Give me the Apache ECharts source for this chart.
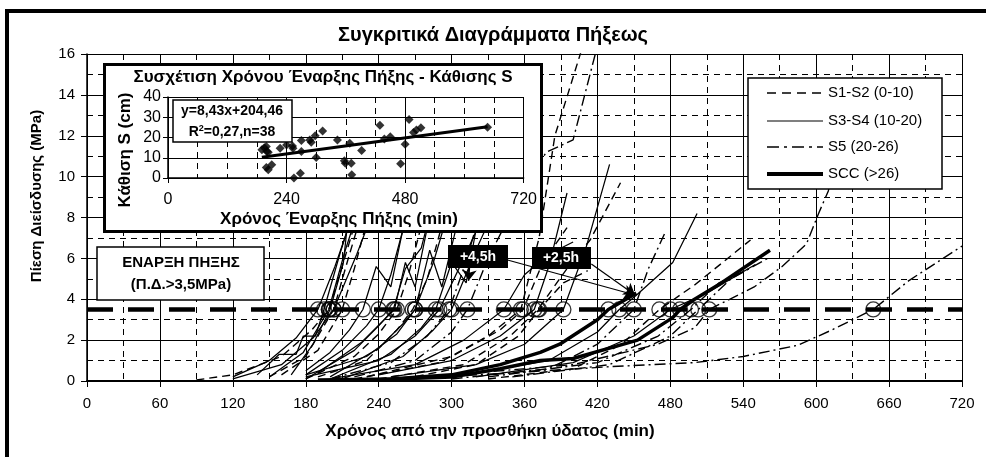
<!DOCTYPE html>
<html>
<head>
<meta charset="utf-8">
<script src="https://cdn.jsdelivr.net/npm/echarts@6/dist/echarts.min.js"></script>
<style>
html,body{margin:0;padding:0;background:#fff;}
#main{position:absolute;left:0;top:0;width:986px;height:457px;}
#inset{position:absolute;left:103px;top:63px;width:440px;height:170px;box-sizing:border-box;border:3px solid #000;background:#fff;z-index:5;}
</style>
</head>
<body>
<div id="main"></div>
<div id="inset"></div>
<script>
// ---------- DATA ----------
const xTicks = [0, 60, 120, 180, 240, 300, 360, 420, 480, 540, 600, 660, 720];
const yTicks = [0, 2, 4, 6, 8, 10, 12, 14, 16];
const thresholdMPa = 3.5;
const legendNames = ['S1-S2 (0-10)', 'S3-S4 (10-20)', 'S5 (20-26)', 'SCC (>26)'];

// initial setting time (min) and slump S (cm) of the 38 mixes
const setTimes = [190,195,199,200,203,199,203,210,227,240,252,253,255,268,270,270,287,290,298,300,313,343,357,359,368,371,372,392,429,438,450,471,480,488,497,503,512,647];
const slumps   = [13.9,15.0,15.5,13.1,12.7,5.2,4.1,6.5,14.7,16.3,15.8,14.7,0,2.4,18.5,13.1,18.8,17.6,20.9,10.1,23.2,18.8,8.5,7.3,17.1,7.3,1.6,13.6,26.1,19.3,20.4,7.0,16.7,28.9,22.5,23.7,24.8,25.1];
const trendX = [190, 647];
const trendY = [10.3, 25.3];

// penetration curves [time min, pressure MPa]
const curvesS12 = [
  [[90,0.05],[120,0.3],[160,1.2],[185,2.5],[199,3.5],[212,6],[222,8]],
  [[150,0.2],[180,1.2],[203,3.5],[215,6],[226,8.2]],
  [[160,0.3],[190,1.5],[210,3.5],[220,5.5],[232,8.2]],
  [[180,0.1],[220,1.2],[240,2.3],[255,3.5],[265,5.3],[276,7.8]],
  [[190,0.2],[230,1.0],[255,2.5],[268,3.5],[280,5],[292,7.6]],
  [[220,0.1],[290,0.9],[330,2.2],[357,3.5],[372,7],[385,12],[408,16.4]],
  [[230,0.2],[300,1.2],[340,2.5],[359,3.5],[375,5.8],[395,7.5]],
  [[240,0.1],[310,0.8],[350,2.3],[371,3.5],[395,5.5],[414,6.9],[439,9.7]],
  [[260,0.1],[320,0.8],[355,2.2],[372,3.5],[392,4.8],[412,5.4]],
  [[330,0.1],[400,0.6],[440,1.8],[471,3.5],[500,4.7],[546,6.9]]
];
const curvesS34 = [
  [[120,0.2],[150,1.0],[172,2.1],[190,3.5],[204,5.6],[218,8.0]],
  [[140,0.3],[158,1.3],[172,1.3],[178,2.2],[188,2.2],[195,3.5],[208,6.2],[220,8.5]],
  [[150,0.2],[178,1.4],[199,3.5],[212,6.3],[224,8.5]],
  [[168,0.3],[186,1.8],[200,3.5],[211,5.8],[214,7.5],[222,9.5]],
  [[120,0.1],[160,0.8],[186,2.1],[203,3.5],[222,6.2],[240,9]],
  [[180,0.5],[200,1.4],[216,2.5],[227,3.5],[238,5.6],[250,4.6],[262,8]],
  [[180,0.3],[210,1.5],[230,2.7],[240,3.5],[250,5.2],[265,8.5]],
  [[180,0.1],[220,1.5],[240,2.7],[252,3.5],[262,5.5],[275,6.5],[285,8.8]],
  [[190,0.4],[226,1.9],[253,3.5],[262,5.8],[270,4.6],[280,7.5]],
  [[200,0.2],[240,1.6],[260,2.8],[270,3.5],[282,6.4],[292,4.6],[305,7.8]],
  [[180,0.3],[230,1.2],[255,2.3],[270,3.5],[285,5.8],[300,8.8]],
  [[200,0.1],[250,1.3],[275,2.6],[287,3.5],[300,5.8],[312,4.8],[322,8]],
  [[180,0.2],[240,1.0],[270,2.2],[290,3.5],[310,6],[330,8.6]],
  [[210,0.1],[260,1.2],[285,2.5],[300,3.5],[320,6.4],[340,9]],
  [[200,0.1],[270,0.8],[310,2.0],[343,3.5],[360,5.2],[380,6.2],[400,6.8]],
  [[240,0.3],[300,1.0],[340,2.2],[368,3.5],[380,5.6],[395,9.2]],
  [[250,0.2],[320,0.8],[360,1.8],[392,3.5],[411,6.6],[430,10.6]],
  [[300,0.2],[380,1.0],[420,2.4],[438,3.5],[452,4.2],[482,5.8],[502,8.2]],
  [[320,0.2],[400,0.9],[450,2.2],[480,3.5],[510,4.3],[550,5.7]]
];
const curvesS5 = [
  [[200,0.1],[250,0.9],[280,2.2],[298,3.5],[310,5.5],[325,8.5]],
  [[220,0.2],[270,1.0],[300,2.4],[313,3.5],[330,6],[360,9.5],[378,11.2],[400,11.8],[420,16.4]],
  [[300,0.1],[380,0.6],[420,1.8],[450,3.5],[462,5.5],[476,7.3]],
  [[330,0.2],[420,0.9],[470,2.2],[497,3.5],[520,4.8],[545,5.5]],
  [[350,0.2],[430,0.8],[480,2.2],[503,3.5],[530,5],[560,6]],
  [[300,0.3],[400,0.8],[470,1.8],[500,2.6],[512,3.5],[549,4.6],[572,5.6],[592,6.7],[602,8.2],[610,9.3],[622,12.5]],
  [[260,0.1],[350,0.4],[430,0.7],[500,0.9],[540,1.2],[585,1.75],[613,2.5],[647,3.5],[676,4.9],[720,6.6]]
];
const curvesSCC = [
  [[190,0.05],[250,0.1],[300,0.3],[340,0.8],[373,1.4],[389,1.8],[420,3.0],[429,3.5],[452,4.3]],
  [[230,0.05],[300,0.2],[340,0.6],[373,1.0],[400,1.1],[453,2.0],[482,3.1],[488,3.5],[500,4.0],[522,4.8],[562,6.4]]
];
// annotation arrows (time, MPa)
const arrows = [
  [[346, 5.92], [451, 4.21]],
  [[415, 5.72], [451, 4.21]],
  [[315, 5.7], [314, 4.9]]
];

// ---------- STYLES ----------
const FONT = 'Liberation Sans, Arial, sans-serif';
const styles = [
  {name: legendNames[0], data: curvesS12, ls: {color:'#000', width:1.4, type:[8,5]}, lg: {width:1.5, dash:[9,6]}},
  {name: legendNames[1], data: curvesS34, ls: {color:'#000', width:1.25, type:'solid'}, lg: {width:1.2, dash:null}},
  {name: legendNames[2], data: curvesS5,  ls: {color:'#000', width:1.4, type:[11,4,2,4]}, lg: {width:1.5, dash:[12,5,3,5]}},
  {name: legendNames[3], data: curvesSCC, ls: {color:'#000', width:3.5, type:'solid'}, lg: {width:4, dash:null}}
];

const series = [];
styles.forEach(s => {
  s.data.forEach(pts => {
    series.push({
      name: s.name, type: 'line', data: pts, symbol: 'none', showSymbol: false,
      lineStyle: s.ls, silent: true, z: 2, animation: false
    });
  });
});
series.push({
  name: 'threshold', type: 'line', symbol: 'none', z: 3, silent: true, animation: false,
  data: [[xTicks[0], thresholdMPa], [xTicks[xTicks.length - 1], thresholdMPa]],
  lineStyle: {color: '#000', width: 4.5, type: [26, 15]}
});
series.push({
  name: 'setting', type: 'scatter', z: 4, silent: true, animation: false,
  data: setTimes.map(t => [t, thresholdMPa]),
  symbol: 'circle', symbolSize: 15,
  itemStyle: {color: 'rgba(0,0,0,0)', borderColor: '#000', borderWidth: 1.3}
});
series.push({
  name: 'arrows', type: 'line', data: [], silent: true, animation: false, z: 6,
  markLine: {
    silent: true, animation: false, symbol: ['none', 'arrow'], symbolSize: 11,
    label: {show: false},
    lineStyle: {color: '#000', width: 1.2, type: 'solid'},
    data: arrows.map(a => [{coord: a[0]}, {coord: a[1]}])
  }
});

// manual legend (box + line samples + text)
const LG = {x: 748, y: 78, w: 194, h: 111, lineX0: 767, lineX1: 823, textX: 828, rowY: [93, 121, 147, 174]};
const legendGraphics = [
  {type: 'rect', z: 110, silent: true, shape: {x: LG.x, y: LG.y, width: LG.w, height: LG.h},
   style: {fill: '#fff', stroke: '#000', lineWidth: 1.5}}
];
styles.forEach((s, i) => {
  legendGraphics.push({type: 'line', z: 111, silent: true,
    shape: {x1: LG.lineX0, y1: LG.rowY[i], x2: LG.lineX1, y2: LG.rowY[i]},
    style: {stroke: '#000', lineWidth: s.lg.width, lineDash: s.lg.dash}});
  legendGraphics.push({type: 'text', z: 111, silent: true, x: LG.textX, y: LG.rowY[i],
    style: {text: s.name, fontFamily: FONT, fontSize: 15, fill: '#000', align: 'left', verticalAlign: 'middle'}});
});

const main = echarts.init(document.getElementById('main'), null, {renderer: 'canvas'});
main.setOption({
  animation: false,
  backgroundColor: '#fff',
  grid: {left: 87, right: 24, top: 54, bottom: 76, containLabel: false},
  xAxis: {
    type: 'value', min: xTicks[0], max: xTicks[xTicks.length - 1], interval: 60,
    axisLine: {show: true, onZero: false, lineStyle: {color: '#000', width: 2}},
    axisTick: {show: true, length: 6, lineStyle: {color: '#000'}},
    axisLabel: {color: '#000', fontFamily: FONT, fontSize: 15, margin: 15},
    splitLine: {show: true, lineStyle: {color: '#000', width: 1}},
    minorTick: {show: false, splitNumber: 2},
    minorSplitLine: {show: true, lineStyle: {color: '#000', width: 1, type: [6, 5]}}
  },
  yAxis: {
    type: 'value', min: yTicks[0], max: yTicks[yTicks.length - 1], interval: 2,
    axisLine: {show: true, lineStyle: {color: '#000', width: 1.5}},
    axisTick: {show: true, length: 6, lineStyle: {color: '#000'}},
    axisLabel: {color: '#000', fontFamily: FONT, fontSize: 15, margin: 12},
    splitLine: {show: true, lineStyle: {color: '#000', width: 1}},
    minorTick: {show: false, splitNumber: 2},
    minorSplitLine: {show: true, lineStyle: {color: '#000', width: 1, type: [6, 5]}}
  },
  graphic: [
    {type: 'rect', z: 100, silent: true, shape: {x: 7, y: 11, width: 990, height: 470},
     style: {fill: 'none', stroke: '#000', lineWidth: 4}},
    {type: 'text', z: 100, silent: true, x: 493, y: 35,
     style: {text: 'Συγκριτικά Διαγράμματα Πήξεως', fontFamily: FONT, fontSize: 20, fontWeight: 'bold',
             fill: '#000', align: 'center', verticalAlign: 'middle'}},
    {type: 'text', z: 100, silent: true, x: 490, y: 431,
     style: {text: 'Χρόνος από την προσθήκη ύδατος (min)', fontFamily: FONT, fontSize: 17, fontWeight: 'bold',
             fill: '#000', align: 'center', verticalAlign: 'middle'}},
    {type: 'text', z: 100, silent: true, x: 37, y: 196, rotation: Math.PI / 2,
     style: {text: 'Πίεση Διείσδυσης (MPa)', fontFamily: FONT, fontSize: 15, fontWeight: 'bold',
             fill: '#000', align: 'center', verticalAlign: 'middle'}},
    {type: 'rect', z: 100, silent: true, shape: {x: 97, y: 247, width: 167, height: 53},
     style: {fill: '#fff', stroke: '#000', lineWidth: 1.5}},
    {type: 'text', z: 101, silent: true, x: 181, y: 263,
     style: {text: 'ΕΝΑΡΞΗ ΠΗΞΗΣ', fontFamily: FONT, fontSize: 15, fontWeight: 'bold',
             fill: '#000', align: 'center', verticalAlign: 'middle'}},
    {type: 'text', z: 101, silent: true, x: 181, y: 285,
     style: {text: '(Π.Δ.>3,5MPa)', fontFamily: FONT, fontSize: 15, fontWeight: 'bold',
             fill: '#000', align: 'center', verticalAlign: 'middle'}},
    {type: 'rect', z: 100, silent: true, shape: {x: 448, y: 245, width: 60, height: 23},
     style: {fill: '#000'}},
    {type: 'text', z: 101, silent: true, x: 478, y: 257,
     style: {text: '+4,5h', fontFamily: FONT, fontSize: 14, fontWeight: 'bold',
             fill: '#fff', align: 'center', verticalAlign: 'middle'}},
    {type: 'rect', z: 100, silent: true, shape: {x: 532, y: 247, width: 59, height: 22},
     style: {fill: '#000'}},
    {type: 'text', z: 101, silent: true, x: 561, y: 258,
     style: {text: '+2,5h', fontFamily: FONT, fontSize: 14, fontWeight: 'bold',
             fill: '#fff', align: 'center', verticalAlign: 'middle'}}
  ].concat(legendGraphics),
  series: series
});

// ---------- INSET ----------
const inset = echarts.init(document.getElementById('inset'), null, {renderer: 'canvas'});
inset.setOption({
  animation: false,
  backgroundColor: '#fff',
  grid: {left: 62, top: 31, width: 360, height: 81, containLabel: false},
  xAxis: {
    type: 'value', min: 0, max: 720, interval: 240,
    axisLine: {show: true, onZero: false, lineStyle: {color: '#000', width: 1.5}},
    axisTick: {show: true, length: 5, lineStyle: {color: '#000'}},
    axisLabel: {color: '#000', fontFamily: FONT, fontSize: 16, margin: 14},
    splitLine: {show: true, lineStyle: {color: '#000', width: 1}},
    minorTick: {show: false, splitNumber: 4},
    minorSplitLine: {show: true, lineStyle: {color: '#000', width: 1, type: [6, 5]}}
  },
  yAxis: {
    type: 'value', min: 0, max: 40, interval: 10,
    axisLine: {show: true, lineStyle: {color: '#000', width: 1.5}},
    axisTick: {show: true, length: 5, lineStyle: {color: '#000'}},
    axisLabel: {color: '#000', fontFamily: FONT, fontSize: 16, margin: 7},
    splitLine: {show: true, lineStyle: {color: '#000', width: 1}}
  },
  graphic: [
    {type: 'text', z: 100, silent: true, x: 217, y: 11,
     style: {text: 'Συσχέτιση Χρόνου Έναρξης Πήξης - Κάθισης S', fontFamily: FONT, fontSize: 17, fontWeight: 'bold',
             fill: '#000', align: 'center', verticalAlign: 'middle'}},
    {type: 'text', z: 100, silent: true, x: 233, y: 153,
     style: {text: 'Χρόνος Έναρξης Πήξης (min)', fontFamily: FONT, fontSize: 17, fontWeight: 'bold',
             fill: '#000', align: 'center', verticalAlign: 'middle'}},
    {type: 'text', z: 100, silent: true, x: 19, y: 84, rotation: Math.PI / 2,
     style: {text: 'Κάθιση S (cm)', fontFamily: FONT, fontSize: 17, fontWeight: 'bold',
             fill: '#000', align: 'center', verticalAlign: 'middle'}},
    {type: 'rect', z: 100, silent: true, shape: {x: 67, y: 34, width: 119, height: 42},
     style: {fill: '#fff', stroke: '#000', lineWidth: 1.5}},
    {type: 'text', z: 101, silent: true, x: 126, y: 45,
     style: {text: 'y=8,43x+204,46', fontFamily: FONT, fontSize: 14, fontWeight: 'bold',
             fill: '#000', align: 'center', verticalAlign: 'middle'}},
    {type: 'text', z: 101, silent: true, x: 126, y: 66,
     style: {text: 'R{s|2}=0,27,n=38', fontFamily: FONT, fontSize: 14, fontWeight: 'bold',
             fill: '#000', align: 'center', verticalAlign: 'middle',
             rich: {s: {fontSize: 9, fontWeight: 'bold', fontFamily: FONT, verticalAlign: 'top', padding: [0, 0, 6, 0]}}}}
  ],
  series: [
    {type: 'scatter', data: setTimes.map((t, i) => [t, slumps[i]]), symbol: 'diamond', symbolSize: 9,
     itemStyle: {color: '#000'}, z: 3, silent: true},
    {type: 'line', data: trendX.map((t, i) => [t, trendY[i]]), symbol: 'none',
     lineStyle: {color: '#000', width: 3}, z: 4, silent: true}
  ]
});
</script>
</body>
</html>
